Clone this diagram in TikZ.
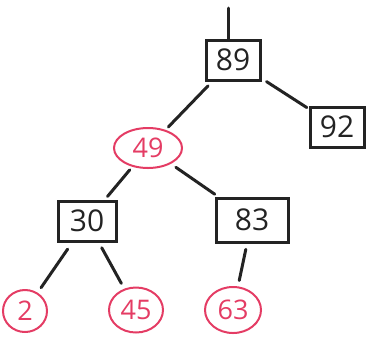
\documentclass[tikz,border=0pt]{standalone}
\usepackage{fontspec}
\setmainfont{Open Sans}
\usetikzlibrary{shapes.geometric}
\definecolor{inkred}{RGB}{228,60,100}
\definecolor{ink}{RGB}{35,35,35}
\tikzset{
  blk/.style={draw=ink, line width=3pt, rectangle, minimum width=54pt, minimum height=40pt, inner sep=1pt, text=ink, font=\fontsize{30}{30}\selectfont},
  red/.style={draw=inkred, line width=2pt, ellipse, inner sep=0pt, text=inkred, font=\fontsize{27}{27}\selectfont},
  edge/.style={draw=ink, line width=3pt, line cap=round}
}
\begin{document}
\begin{tikzpicture}[x=1pt,y=-1pt]
\useasboundingbox (0,0) rectangle (371,341);
\node[blk] (n89) at (233,60) {89};
\node[blk] (n92) at (337,127) {92};
\node[red, minimum width=68pt, minimum height=40pt] (n49) at (148,148) {49};
\node[blk, minimum width=58pt] (n30) at (87,221) {30};
\node[blk, minimum width=72pt, minimum height=44pt] (n83) at (252,220) {83};
\node[red, minimum width=44pt, minimum height=42pt] (n2) at (25,311) {2};
\node[red, minimum width=54pt, minimum height=45pt] (n45) at (136,310) {45};
\node[red, minimum width=56pt, minimum height=46pt] (n63) at (233,310) {63};
\coordinate (top) at (228,8);
\draw[edge] (top) -- (228,40);
\draw[edge, shorten <=6pt, shorten >=2pt] (n89) -- (n92);
\draw[edge, shorten <=6pt, shorten >=4pt] (n89) -- (n49);
\draw[edge, shorten <=4pt, shorten >=4pt] (n49) -- (n30);
\draw[edge, shorten <=6pt, shorten >=4pt] (n49) -- (n83);
\draw[edge, shorten <=8pt, shorten >=6pt] (n30) -- (n2);
\draw[edge, shorten <=6pt, shorten >=6pt] (n30) -- (n45);
\draw[edge, shorten <=6pt, shorten >=6pt] (n83) -- (n63);
\end{tikzpicture}
\end{document}
